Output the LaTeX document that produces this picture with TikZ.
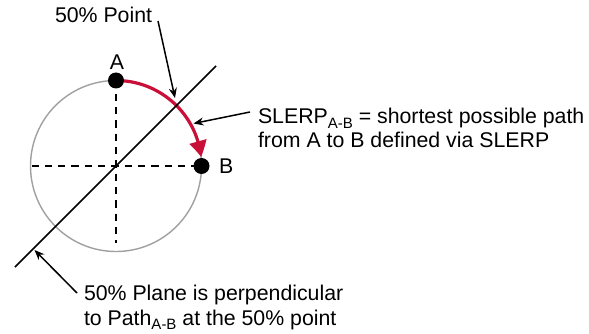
\documentclass[tikz,border=0pt]{standalone}
\usepackage{fontspec}
\setmainfont{Liberation Sans}
\usetikzlibrary{arrows.meta,bending}
\definecolor{slerpred}{RGB}{200,16,56}
\definecolor{circlegray}{RGB}{160,160,160}
\newcommand\subAB{\raisebox{-4.5pt}{\fontsize{15}{15}\selectfont A-B}}
\begin{document}
\begin{tikzpicture}[x=1pt,y=-1pt,
  font=\fontsize{21.3}{24}\selectfont,
  txt/.style={inner sep=0pt, outer sep=0pt},
  dot/.style={circle, fill=black, inner sep=0pt, minimum size=16pt},
  dashline/.style={line width=2pt, dash pattern=on 7.3pt off 6pt},
  pointer/.style={line width=1.5pt, -{Stealth[length=10pt,width=8pt]}},
  rimline/.style={circlegray, line width=1.4pt},
  planeline/.style={line width=1.6pt},
  patharrow/.style={slerpred, line width=3.2pt, -{Triangle[length=16pt,width=17pt,bend]}}]
\useasboundingbox (0,0) rectangle (589,334);
% geometry
\coordinate (O) at (116,166);
\coordinate (vbot) at (116,243);
\coordinate (hleft) at (31.5,166);
\coordinate (d1) at (15,267);
\coordinate (d2) at (216,66);
% circle
\draw[rimline] (O) circle[radius=85.5];
% dashed axes
\draw[dashline] (116,80.5) -- (vbot);
\draw[dashline] (hleft) -- (201.5,166);
% SLERP arc
\draw[patharrow] (116,80.5) arc[start angle=270, end angle=354, radius=85.5];
% plane line
\draw[planeline] (d1) -- (d2);
% dots
\node[dot] (A) at (116,80.5) {};
\node[dot] (B) at (201.5,166) {};
% labels
\node[txt, anchor=base] (lA) at (117,70) {A};
\node[txt, anchor=base west] (lB) at (219,173) {B};
\node[txt, anchor=base west] (pt) at (55,23) {50\% Point};
\node[txt, anchor=base west] (s1) at (258,124) {SLERP\subAB{} = shortest possible path};
\node[txt, anchor=base west] (s2) at (258,148) {from A to B defined via SLERP};
\node[txt, anchor=base west] (p1) at (84,300.5) {50\% Plane is perpendicular};
\node[txt, anchor=base west] (p2) at (84,325) {to Path\subAB{} at the 50\% point};
% pointer arrows
\coordinate (ptTail) at (158,21);
\coordinate (ptTip) at (175,98);
\coordinate (sTail) at (250,112);
\coordinate (sTip) at (193.5,123.5);
\coordinate (pTail) at (77,293);
\coordinate (pTip) at (34.5,250);
\draw[pointer] (ptTail) -- (ptTip);
\draw[pointer] (sTail) -- (sTip);
\draw[pointer] (pTail) -- (pTip);
\end{tikzpicture}
\end{document}
